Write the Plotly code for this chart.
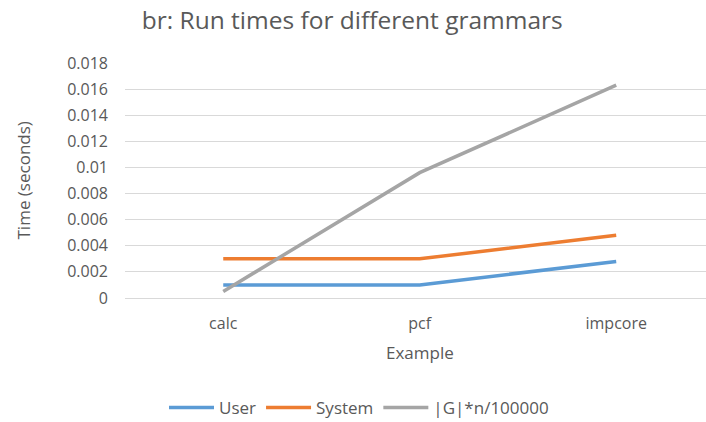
import plotly.graph_objects as go

categories = ["calc", "pcf", "impcore"]
user = [0.001, 0.001, 0.0028]
system = [0.003, 0.003, 0.0048]
g_scaled = [0.0005, 0.0096, 0.0163]
series_names = ["User", "System", "|G|*n/100000"]
colors = ["#5b9bd5", "#ed7d31", "#a5a5a5"]
y_ticks = [0, 0.002, 0.004, 0.006, 0.008, 0.01, 0.012, 0.014, 0.016, 0.018]
y_tick_text = ["0", "0.002", "0.004", "0.006", "0.008", "0.01", "0.012", "0.014", "0.016", "0.018"]

FONT = "Open Sans"
TXT = "#595959"
W, H = 706, 422
L, R, T, B = 125, 0, 63, 124

fig = go.Figure()
for name, vals, c in zip(series_names, [user, system, g_scaled], colors):
    fig.add_trace(go.Scatter(x=list(range(len(categories))), y=vals, mode="lines", name=name,
                             line=dict(color=c, width=3.5)))

plot_h = H - T - B
fig.update_layout(
    width=W, height=H,
    margin=dict(l=L, r=R, t=T, b=B, autoexpand=False),
    paper_bgcolor="white", plot_bgcolor="white",
    font=dict(family=FONT, color=TXT, size=16),
    title=dict(text="br: Run times for different grammars", x=0.499, xref="container",
               y=1 - 20 / H, yref="container", yanchor="middle", xanchor="center",
               font=dict(family=FONT, size=24.5, color=TXT)),
    showlegend=True,
    legend=dict(orientation="h", x=(359 - L) / (W - L - R), xanchor="center",
                y=(H - B - 408) / plot_h, yanchor="middle",
                font=dict(family=FONT, size=17, color=TXT), itemwidth=45, tracegroupgap=0),
    xaxis=dict(tickvals=list(range(len(categories))), ticktext=categories, range=[-0.5, 2.457],
               showgrid=False, zeroline=False, showline=False, ticks="", automargin=False,
               ticklabelstandoff=14,
               tickfont=dict(family=FONT, size=16, color=TXT)),
    yaxis=dict(range=[0, 0.018], tickvals=y_ticks, ticktext=y_tick_text, showgrid=True,
               gridcolor="#d9d9d9", gridwidth=1, zeroline=True, zerolinecolor="#d9d9d9", zerolinewidth=1,
               showline=False, ticks="", ticklabelstandoff=16, automargin=False,
               tickfont=dict(family=FONT, size=16, color=TXT)),
    annotations=[
        dict(text="Example", xref="x", x=1, yref="paper", y=(H - B - 352) / plot_h,
             yanchor="middle", xanchor="center", showarrow=False,
             font=dict(family=FONT, size=17, color=TXT)),
        dict(text="Time (seconds)", xref="paper", x=-(L - 23) / (W - L - R), xanchor="center",
             yref="paper", y=0.5, yanchor="middle", textangle=-90, showarrow=False,
             font=dict(family=FONT, size=17, color=TXT)),
    ],
)

fig.write_html("out.html", config={"displayModeBar": False},
               post_script="document.body.style.margin='0';document.body.style.overflow='hidden';")
